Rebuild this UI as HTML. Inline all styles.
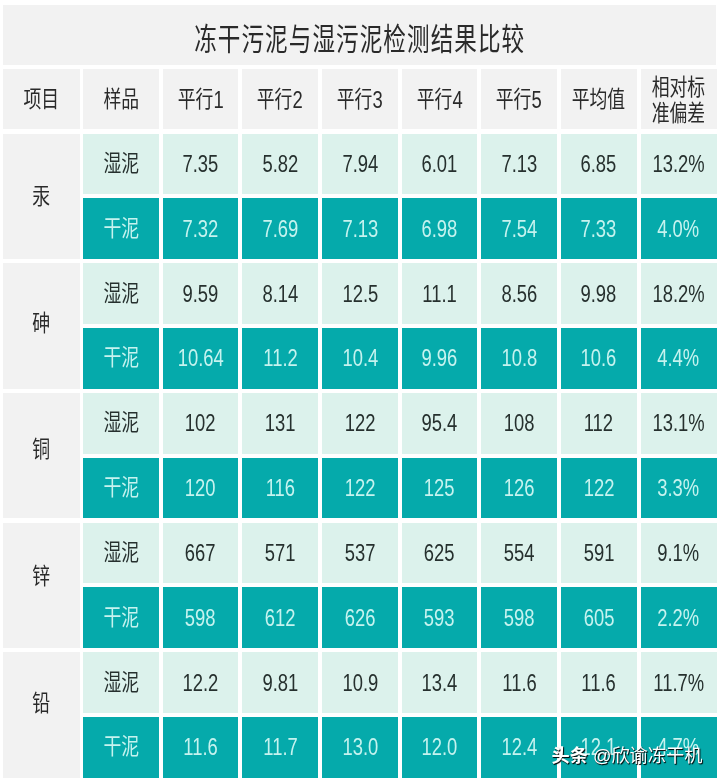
<!DOCTYPE html>
<html><head><meta charset="utf-8"><style>
:root{--g:#f2f2f2;--l:#dcf2ec;--d:#05aaab;}
html,body{margin:0;padding:0;background:#fff;width:720px;height:782px;overflow:hidden;}
#r{position:absolute;left:0;top:0;width:720px;height:782px;background:#fff;filter:blur(0.4px);}
body{position:relative;font-family:"Liberation Sans","Noto Sans CJK SC",sans-serif;}
.c{position:absolute;display:flex;align-items:center;justify-content:center;color:#2a2a2a;}
.c span{position:relative;display:inline-block;transform:scaleX(0.8);white-space:nowrap;text-align:center;line-height:30px;}
.c i{font-style:normal;position:relative;}
.c i.k{font-family:"Liberation Sans","Noto Sans CJK SC",sans-serif;font-size:22.3px;top:1px;}
.c i.d{font-size:23px;top:1.5px;}
.title span{transform:scaleX(0.74);}
.title i.k{font-size:30.5px;letter-spacing:1.46px;top:6.8px;}
.hd span{top:0.6px;}
.hd.two span{top:1.0px;line-height:26.4px;font-family:"Liberation Sans","Noto Sans CJK SC",sans-serif;font-size:22.3px;}
.dr{color:#c6f3ef;}
.wt{color:#26302e;}
.wm{position:absolute;left:551.5px;top:747px;color:#fff;font-family:"Liberation Sans","Noto Sans CJK SC",sans-serif;font-size:18.2px;line-height:1;white-space:nowrap;text-shadow:1px 1px 1px rgba(0,0,0,.9),0.5px 0.5px 0.5px rgba(0,0,0,.6);}
.wm b{font-weight:bold;}
</style></head><body>
<div id="r">
<div class="c title" style="left:3.2px;top:5px;width:713.3px;height:59.5px;background:var(--g)"><span><i class="k">冻干污泥与湿污泥检测结果比较</i></span></div><div class="c hd" style="left:3.2px;top:68.7px;width:76.4px;height:60.5px;background:var(--g)"><span><i class="k">项目</i></span></div><div class="c hd" style="left:82.9px;top:68.7px;width:75.9px;height:60.5px;background:var(--g)"><span><i class="k">样品</i></span></div><div class="c hd" style="left:162.6px;top:68.7px;width:75.8px;height:60.5px;background:var(--g)"><span><i class="k">平行</i><i class="d">1</i></span></div><div class="c hd" style="left:242.3px;top:68.7px;width:75.8px;height:60.5px;background:var(--g)"><span><i class="k">平行</i><i class="d">2</i></span></div><div class="c hd" style="left:322px;top:68.7px;width:75.8px;height:60.5px;background:var(--g)"><span><i class="k">平行</i><i class="d">3</i></span></div><div class="c hd" style="left:401.7px;top:68.7px;width:75.8px;height:60.5px;background:var(--g)"><span><i class="k">平行</i><i class="d">4</i></span></div><div class="c hd" style="left:481.3px;top:68.7px;width:75.7px;height:60.5px;background:var(--g)"><span><i class="k">平行</i><i class="d">5</i></span></div><div class="c hd" style="left:560.9px;top:68.7px;width:75.7px;height:60.5px;background:var(--g)"><span><i class="k">平均值</i></span></div><div class="c hd two" style="left:640.5px;top:68.7px;width:76.0px;height:60.5px;background:var(--g)"><span><i class="k">相对标</i><br><i class="k">准偏差</i></span></div><div class="c nm" style="left:3.2px;top:133.6px;width:76.4px;height:125.43px;background:var(--g)"><span style="top:0.3px"><i class="k">汞</i></span></div><div class="c wt" style="left:82.9px;top:133.6px;width:75.9px;height:60.6px;background:var(--l)"><span><i class="k">湿泥</i></span></div><div class="c dr" style="left:82.9px;top:198.43px;width:75.9px;height:60.6px;background:var(--d)"><span><i class="k">干泥</i></span></div><div class="c wt" style="left:162.6px;top:133.6px;width:75.8px;height:60.6px;background:var(--l)"><span><i class="d">7.35</i></span></div><div class="c wt" style="left:242.3px;top:133.6px;width:75.8px;height:60.6px;background:var(--l)"><span><i class="d">5.82</i></span></div><div class="c wt" style="left:322px;top:133.6px;width:75.8px;height:60.6px;background:var(--l)"><span><i class="d">7.94</i></span></div><div class="c wt" style="left:401.7px;top:133.6px;width:75.8px;height:60.6px;background:var(--l)"><span><i class="d">6.01</i></span></div><div class="c wt" style="left:481.3px;top:133.6px;width:75.7px;height:60.6px;background:var(--l)"><span><i class="d">7.13</i></span></div><div class="c wt" style="left:560.9px;top:133.6px;width:75.7px;height:60.6px;background:var(--l)"><span><i class="d">6.85</i></span></div><div class="c wt" style="left:640.5px;top:133.6px;width:76.0px;height:60.6px;background:var(--l)"><span><i class="d">13.2%</i></span></div><div class="c dr" style="left:162.6px;top:198.43px;width:75.8px;height:60.6px;background:var(--d)"><span><i class="d">7.32</i></span></div><div class="c dr" style="left:242.3px;top:198.43px;width:75.8px;height:60.6px;background:var(--d)"><span><i class="d">7.69</i></span></div><div class="c dr" style="left:322px;top:198.43px;width:75.8px;height:60.6px;background:var(--d)"><span><i class="d">7.13</i></span></div><div class="c dr" style="left:401.7px;top:198.43px;width:75.8px;height:60.6px;background:var(--d)"><span><i class="d">6.98</i></span></div><div class="c dr" style="left:481.3px;top:198.43px;width:75.7px;height:60.6px;background:var(--d)"><span><i class="d">7.54</i></span></div><div class="c dr" style="left:560.9px;top:198.43px;width:75.7px;height:60.6px;background:var(--d)"><span><i class="d">7.33</i></span></div><div class="c dr" style="left:640.5px;top:198.43px;width:76.0px;height:60.6px;background:var(--d)"><span><i class="d">4.0%</i></span></div><div class="c nm" style="left:3.2px;top:263.26px;width:76.4px;height:125.43px;background:var(--g)"><span style="top:-2.45px"><i class="k">砷</i></span></div><div class="c wt" style="left:82.9px;top:263.26px;width:75.9px;height:60.6px;background:var(--l)"><span><i class="k">湿泥</i></span></div><div class="c dr" style="left:82.9px;top:328.09px;width:75.9px;height:60.6px;background:var(--d)"><span><i class="k">干泥</i></span></div><div class="c wt" style="left:162.6px;top:263.26px;width:75.8px;height:60.6px;background:var(--l)"><span><i class="d">9.59</i></span></div><div class="c wt" style="left:242.3px;top:263.26px;width:75.8px;height:60.6px;background:var(--l)"><span><i class="d">8.14</i></span></div><div class="c wt" style="left:322px;top:263.26px;width:75.8px;height:60.6px;background:var(--l)"><span><i class="d">12.5</i></span></div><div class="c wt" style="left:401.7px;top:263.26px;width:75.8px;height:60.6px;background:var(--l)"><span><i class="d">11.1</i></span></div><div class="c wt" style="left:481.3px;top:263.26px;width:75.7px;height:60.6px;background:var(--l)"><span><i class="d">8.56</i></span></div><div class="c wt" style="left:560.9px;top:263.26px;width:75.7px;height:60.6px;background:var(--l)"><span><i class="d">9.98</i></span></div><div class="c wt" style="left:640.5px;top:263.26px;width:76.0px;height:60.6px;background:var(--l)"><span><i class="d">18.2%</i></span></div><div class="c dr" style="left:162.6px;top:328.09px;width:75.8px;height:60.6px;background:var(--d)"><span><i class="d">10.64</i></span></div><div class="c dr" style="left:242.3px;top:328.09px;width:75.8px;height:60.6px;background:var(--d)"><span><i class="d">11.2</i></span></div><div class="c dr" style="left:322px;top:328.09px;width:75.8px;height:60.6px;background:var(--d)"><span><i class="d">10.4</i></span></div><div class="c dr" style="left:401.7px;top:328.09px;width:75.8px;height:60.6px;background:var(--d)"><span><i class="d">9.96</i></span></div><div class="c dr" style="left:481.3px;top:328.09px;width:75.7px;height:60.6px;background:var(--d)"><span><i class="d">10.8</i></span></div><div class="c dr" style="left:560.9px;top:328.09px;width:75.7px;height:60.6px;background:var(--d)"><span><i class="d">10.6</i></span></div><div class="c dr" style="left:640.5px;top:328.09px;width:76.0px;height:60.6px;background:var(--d)"><span><i class="d">4.4%</i></span></div><div class="c nm" style="left:3.2px;top:392.92px;width:76.4px;height:125.43px;background:var(--g)"><span style="top:-5.2px"><i class="k">铜</i></span></div><div class="c wt" style="left:82.9px;top:392.92px;width:75.9px;height:60.6px;background:var(--l)"><span><i class="k">湿泥</i></span></div><div class="c dr" style="left:82.9px;top:457.75px;width:75.9px;height:60.6px;background:var(--d)"><span><i class="k">干泥</i></span></div><div class="c wt" style="left:162.6px;top:392.92px;width:75.8px;height:60.6px;background:var(--l)"><span><i class="d">102</i></span></div><div class="c wt" style="left:242.3px;top:392.92px;width:75.8px;height:60.6px;background:var(--l)"><span><i class="d">131</i></span></div><div class="c wt" style="left:322px;top:392.92px;width:75.8px;height:60.6px;background:var(--l)"><span><i class="d">122</i></span></div><div class="c wt" style="left:401.7px;top:392.92px;width:75.8px;height:60.6px;background:var(--l)"><span><i class="d">95.4</i></span></div><div class="c wt" style="left:481.3px;top:392.92px;width:75.7px;height:60.6px;background:var(--l)"><span><i class="d">108</i></span></div><div class="c wt" style="left:560.9px;top:392.92px;width:75.7px;height:60.6px;background:var(--l)"><span><i class="d">112</i></span></div><div class="c wt" style="left:640.5px;top:392.92px;width:76.0px;height:60.6px;background:var(--l)"><span><i class="d">13.1%</i></span></div><div class="c dr" style="left:162.6px;top:457.75px;width:75.8px;height:60.6px;background:var(--d)"><span><i class="d">120</i></span></div><div class="c dr" style="left:242.3px;top:457.75px;width:75.8px;height:60.6px;background:var(--d)"><span><i class="d">116</i></span></div><div class="c dr" style="left:322px;top:457.75px;width:75.8px;height:60.6px;background:var(--d)"><span><i class="d">122</i></span></div><div class="c dr" style="left:401.7px;top:457.75px;width:75.8px;height:60.6px;background:var(--d)"><span><i class="d">125</i></span></div><div class="c dr" style="left:481.3px;top:457.75px;width:75.7px;height:60.6px;background:var(--d)"><span><i class="d">126</i></span></div><div class="c dr" style="left:560.9px;top:457.75px;width:75.7px;height:60.6px;background:var(--d)"><span><i class="d">122</i></span></div><div class="c dr" style="left:640.5px;top:457.75px;width:76.0px;height:60.6px;background:var(--d)"><span><i class="d">3.3%</i></span></div><div class="c nm" style="left:3.2px;top:522.58px;width:76.4px;height:125.43px;background:var(--g)"><span style="top:-7.95px"><i class="k">锌</i></span></div><div class="c wt" style="left:82.9px;top:522.58px;width:75.9px;height:60.6px;background:var(--l)"><span><i class="k">湿泥</i></span></div><div class="c dr" style="left:82.9px;top:587.41px;width:75.9px;height:60.6px;background:var(--d)"><span><i class="k">干泥</i></span></div><div class="c wt" style="left:162.6px;top:522.58px;width:75.8px;height:60.6px;background:var(--l)"><span><i class="d">667</i></span></div><div class="c wt" style="left:242.3px;top:522.58px;width:75.8px;height:60.6px;background:var(--l)"><span><i class="d">571</i></span></div><div class="c wt" style="left:322px;top:522.58px;width:75.8px;height:60.6px;background:var(--l)"><span><i class="d">537</i></span></div><div class="c wt" style="left:401.7px;top:522.58px;width:75.8px;height:60.6px;background:var(--l)"><span><i class="d">625</i></span></div><div class="c wt" style="left:481.3px;top:522.58px;width:75.7px;height:60.6px;background:var(--l)"><span><i class="d">554</i></span></div><div class="c wt" style="left:560.9px;top:522.58px;width:75.7px;height:60.6px;background:var(--l)"><span><i class="d">591</i></span></div><div class="c wt" style="left:640.5px;top:522.58px;width:76.0px;height:60.6px;background:var(--l)"><span><i class="d">9.1%</i></span></div><div class="c dr" style="left:162.6px;top:587.41px;width:75.8px;height:60.6px;background:var(--d)"><span><i class="d">598</i></span></div><div class="c dr" style="left:242.3px;top:587.41px;width:75.8px;height:60.6px;background:var(--d)"><span><i class="d">612</i></span></div><div class="c dr" style="left:322px;top:587.41px;width:75.8px;height:60.6px;background:var(--d)"><span><i class="d">626</i></span></div><div class="c dr" style="left:401.7px;top:587.41px;width:75.8px;height:60.6px;background:var(--d)"><span><i class="d">593</i></span></div><div class="c dr" style="left:481.3px;top:587.41px;width:75.7px;height:60.6px;background:var(--d)"><span><i class="d">598</i></span></div><div class="c dr" style="left:560.9px;top:587.41px;width:75.7px;height:60.6px;background:var(--d)"><span><i class="d">605</i></span></div><div class="c dr" style="left:640.5px;top:587.41px;width:76.0px;height:60.6px;background:var(--d)"><span><i class="d">2.2%</i></span></div><div class="c nm" style="left:3.2px;top:652.24px;width:76.4px;height:125.43px;background:var(--g)"><span style="top:-10.7px"><i class="k">铅</i></span></div><div class="c wt" style="left:82.9px;top:652.24px;width:75.9px;height:60.6px;background:var(--l)"><span><i class="k">湿泥</i></span></div><div class="c dr" style="left:82.9px;top:717.07px;width:75.9px;height:60.6px;background:var(--d)"><span><i class="k">干泥</i></span></div><div class="c wt" style="left:162.6px;top:652.24px;width:75.8px;height:60.6px;background:var(--l)"><span><i class="d">12.2</i></span></div><div class="c wt" style="left:242.3px;top:652.24px;width:75.8px;height:60.6px;background:var(--l)"><span><i class="d">9.81</i></span></div><div class="c wt" style="left:322px;top:652.24px;width:75.8px;height:60.6px;background:var(--l)"><span><i class="d">10.9</i></span></div><div class="c wt" style="left:401.7px;top:652.24px;width:75.8px;height:60.6px;background:var(--l)"><span><i class="d">13.4</i></span></div><div class="c wt" style="left:481.3px;top:652.24px;width:75.7px;height:60.6px;background:var(--l)"><span><i class="d">11.6</i></span></div><div class="c wt" style="left:560.9px;top:652.24px;width:75.7px;height:60.6px;background:var(--l)"><span><i class="d">11.6</i></span></div><div class="c wt" style="left:640.5px;top:652.24px;width:76.0px;height:60.6px;background:var(--l)"><span><i class="d">11.7%</i></span></div><div class="c dr" style="left:162.6px;top:717.07px;width:75.8px;height:60.6px;background:var(--d)"><span><i class="d">11.6</i></span></div><div class="c dr" style="left:242.3px;top:717.07px;width:75.8px;height:60.6px;background:var(--d)"><span><i class="d">11.7</i></span></div><div class="c dr" style="left:322px;top:717.07px;width:75.8px;height:60.6px;background:var(--d)"><span><i class="d">13.0</i></span></div><div class="c dr" style="left:401.7px;top:717.07px;width:75.8px;height:60.6px;background:var(--d)"><span><i class="d">12.0</i></span></div><div class="c dr" style="left:481.3px;top:717.07px;width:75.7px;height:60.6px;background:var(--d)"><span><i class="d">12.4</i></span></div><div class="c dr" style="left:560.9px;top:717.07px;width:75.7px;height:60.6px;background:var(--d)"><span><i class="d">12.1</i></span></div><div class="c dr" style="left:640.5px;top:717.07px;width:76.0px;height:60.6px;background:var(--d)"><span><i class="d">4.7%</i></span></div>
<div class="wm"><b>头条</b> @欣谕冻干机</div>
</div>
</body></html>
